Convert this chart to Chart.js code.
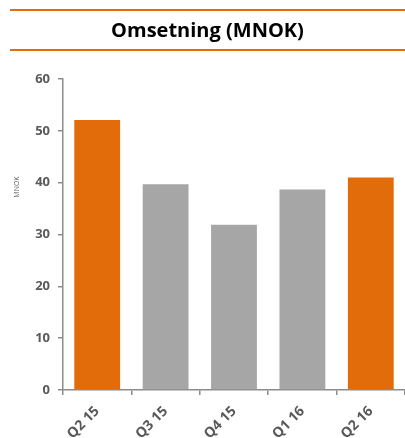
<!DOCTYPE html>
<html>
<head>
<meta charset="utf-8">
<script src="https://cdn.jsdelivr.net/npm/chart.js@4/dist/chart.umd.min.js"></script>
<style>
  body { margin: 0; background: #fff; }
  #wrap { position: relative; width: 405px; height: 438px; }
  #header {
    position: absolute; left: 10px; top: 9px; width: 395px; height: 38px;
    border-top: 2px solid #e46c0a; border-bottom: 2px solid #e46c0a;
    font-family: "Open Sans", sans-serif; font-weight: bold; font-size: 20px;
    line-height: 38px; text-align: center; color: #000;
  }
  canvas { position: absolute; left: 0; top: 0; }
</style>
</head>
<body>
<div id="wrap">
  <canvas id="bar-chart" width="405" height="438"></canvas>
  <div id="header">Omsetning (MNOK)</div>
</div>
<script>
const quarters = ['Q2 15', 'Q3 15', 'Q4 15', 'Q1 16', 'Q2 16'];
const revenue = [52.1, 39.7, 31.9, 38.7, 41.0];
const yTicks = [0, 10, 20, 30, 40, 50, 60];
const axisTitle = 'MNOK';

const orange = '#e36c0a';
const grey = '#a6a6a6';
// same quarter last year and now in orange
const barColors = quarters.map((q) => q.startsWith('Q2') ? orange : grey);

// small rotated "MNOK" next to the y axis
const yLabel = {
  id: 'yLabel',
  afterDraw(chart) {
    const c = chart.ctx;
    c.save();
    c.translate(17, 187);
    c.rotate(-Math.PI / 2);
    c.font = '7px "Open Sans"';
    c.fillStyle = '#595959';
    c.textAlign = 'center';
    c.textBaseline = 'middle';
    c.fillText(axisTitle, 0, 0);
    c.restore();
  }
};

let config = {
  type: 'bar',
  data: {
    labels: quarters,
    datasets: [{
      data: revenue,
      backgroundColor: barColors,
      borderWidth: 0,
      categoryPercentage: 1,
      barPercentage: 0.67,
    }]
  },
  plugins: [yLabel],
  options: {
    responsive: false,
    animation: false,
    layout: { padding: { top: 79, left: 0, right: 0, bottom: 0 } },
    plugins: {
      legend: { display: false },
      tooltip: { enabled: false },
    },
    scales: {
      x: {
        afterFit(scale) { scale.height = 48; },
        border: { color: '#8c8c8c', width: 1.5 },
        grid: { drawOnChartArea: false, tickLength: 5, color: '#8c8c8c', lineWidth: 1.5 },
        ticks: {
          minRotation: 45, maxRotation: 45, padding: 8,
          color: '#595959',
          font: { family: 'Open Sans', size: 14, weight: 'bold' },
        },
      },
      y: {
        min: 0, max: 60,
        afterFit(scale) { scale.width = 63; },
        afterBuildTicks(scale) { scale.ticks = yTicks.map((v) => ({ value: v })); },
        border: { color: '#8c8c8c', width: 1.5 },
        grid: { drawOnChartArea: false, tickLength: 5, color: '#8c8c8c', lineWidth: 1.5 },
        ticks: {
          padding: 8,
          color: '#595959',
          font: { family: 'Open Sans', size: 13, weight: 'bold' },
        },
      },
    },
  },
};

let ctx = document.getElementById('bar-chart').getContext('2d');
const barChart = new Chart(ctx, config);
</script>
</body>
</html>
